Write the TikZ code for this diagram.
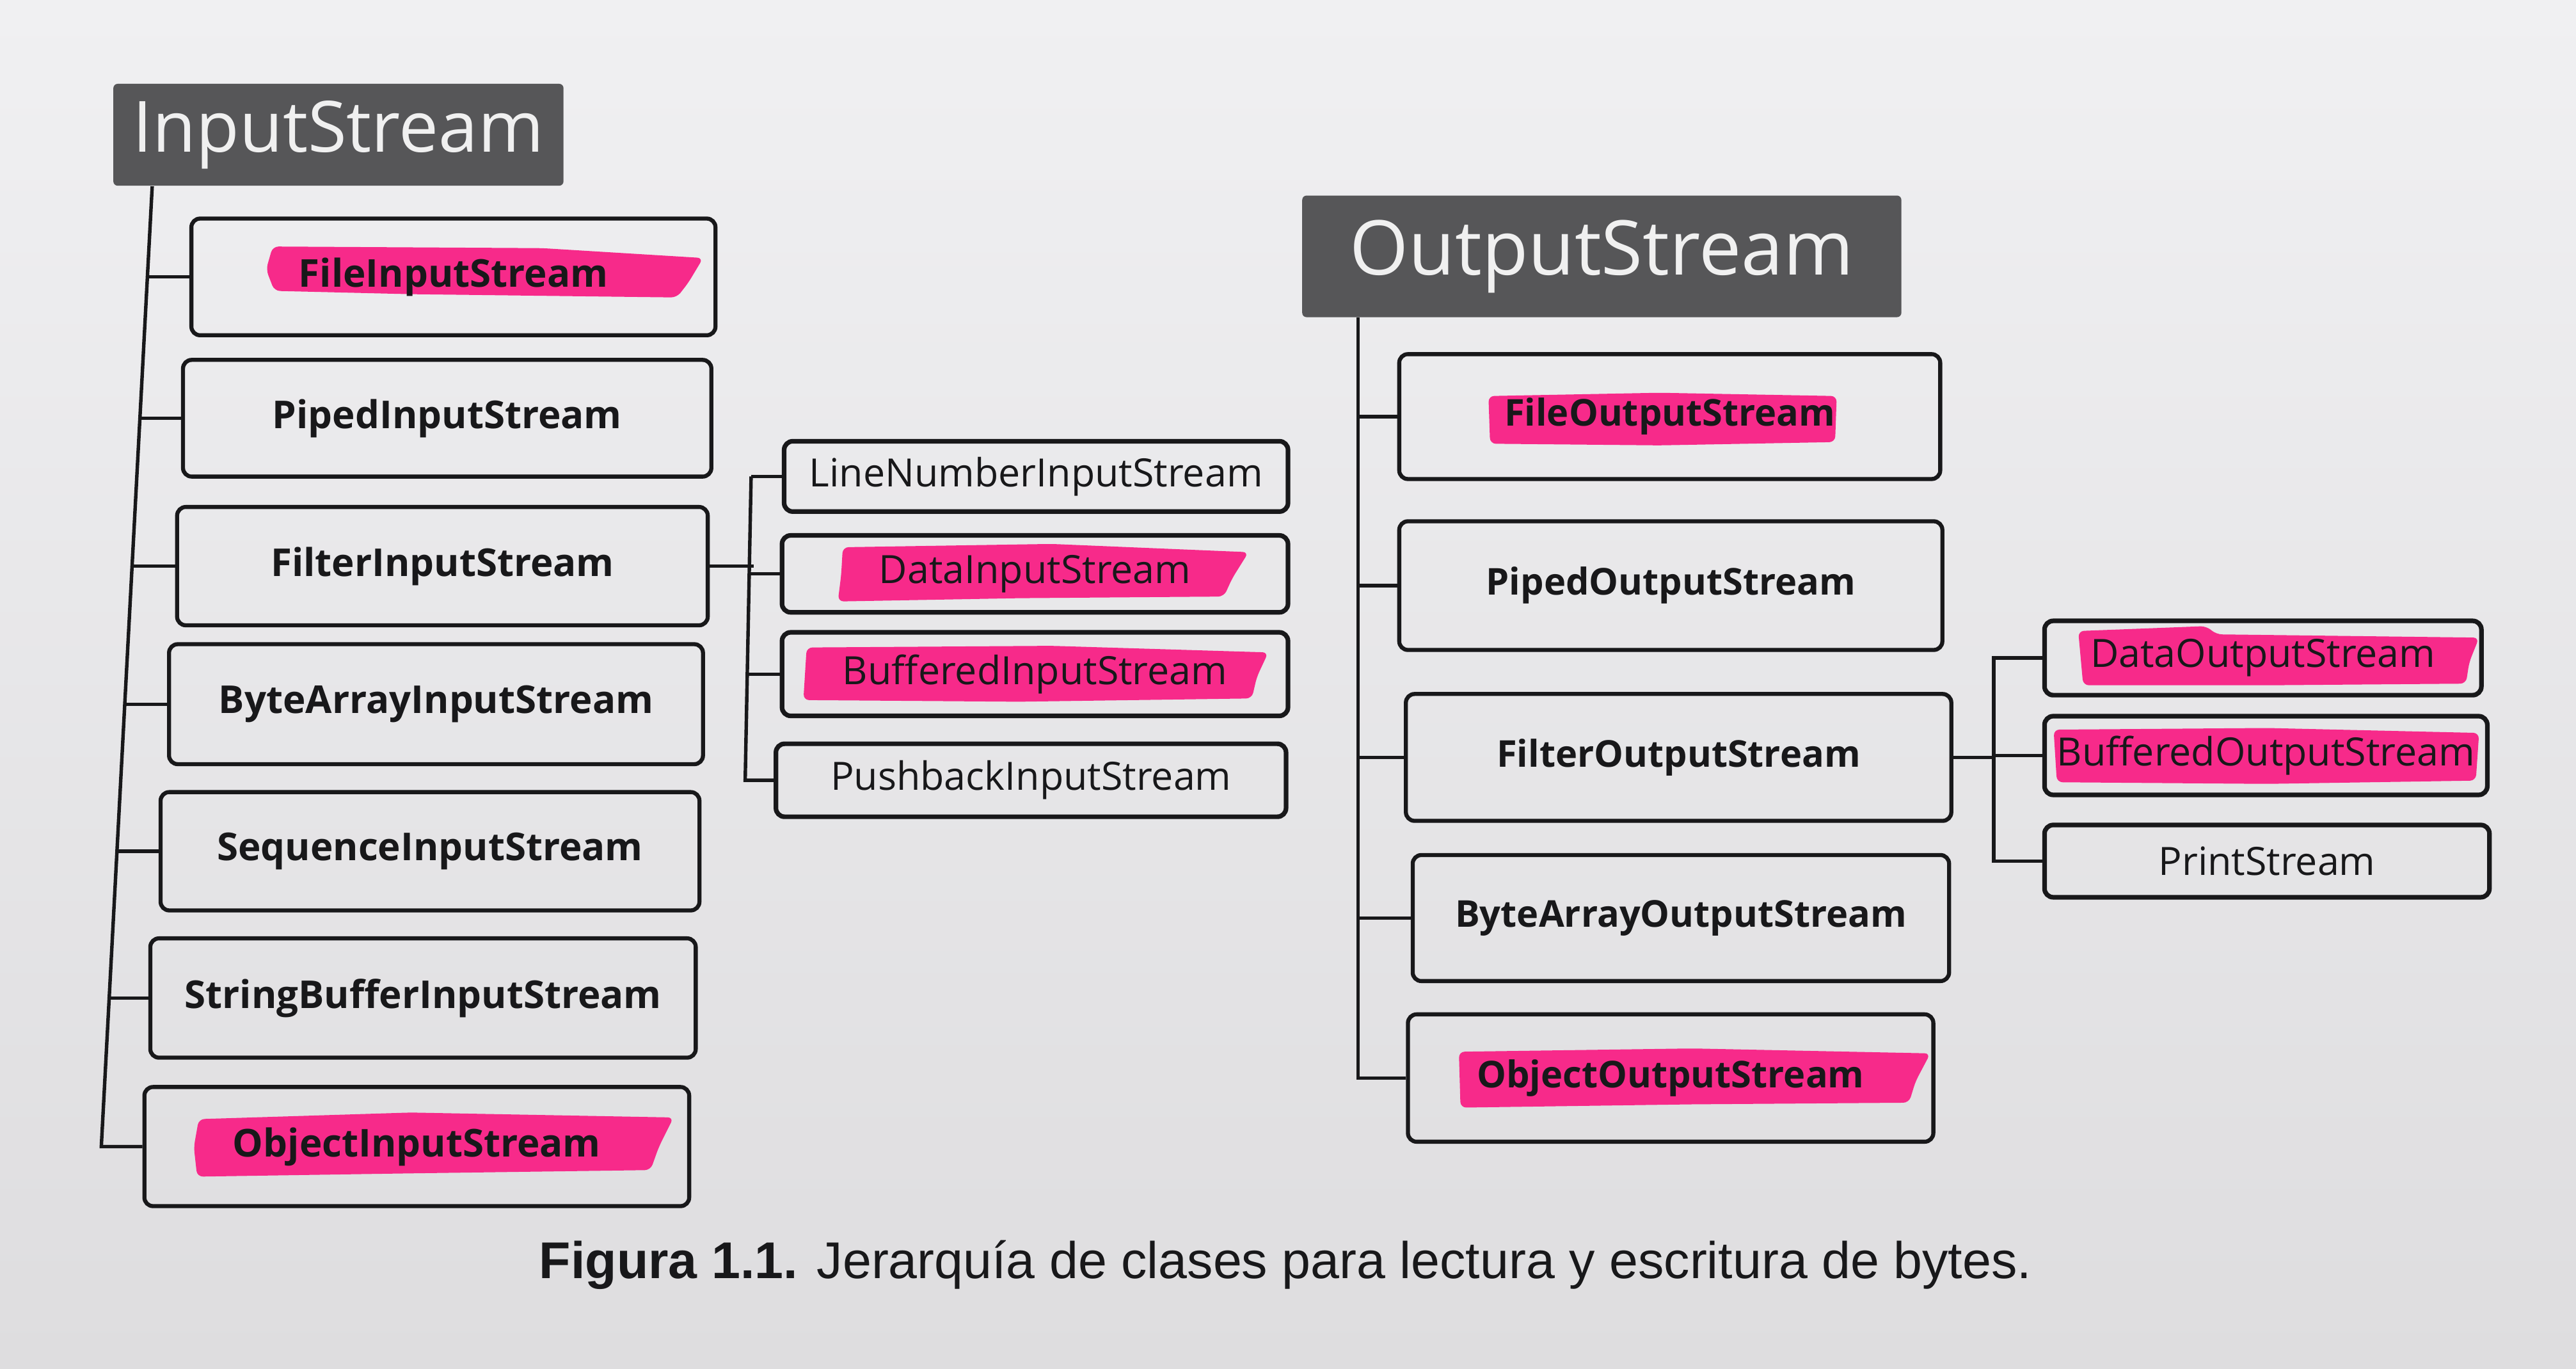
\documentclass[tikz,border=0pt]{standalone}
\usepackage{fontspec}
\newfontfamily\boxfont{Open Sans}
\newfontfamily\capfont{Liberation Sans}
\usetikzlibrary{calc}
\definecolor{paperTop}{RGB}{240,240,242}
\definecolor{paperBot}{RGB}{222,221,223}
\definecolor{hdr}{RGB}{86,86,88}
\definecolor{ink}{RGB}{24,24,26}
\definecolor{hipink}{RGB}{247,42,138}
\def\U{0.02cm}
\begin{document}
\begin{tikzpicture}[x=0.02cm,y=-0.02cm,
  hdrbox/.style={fill=hdr, rounded corners=1.5pt, text=white!94!black, inner sep=0pt, font=\boxfont\fontsize{24.5pt}{28pt}\selectfont},
  mainbox/.style={draw=ink, line width=1.4pt, rounded corners=3pt, inner sep=0pt, text=ink, font=\boxfont\bfseries\fontsize{13.3pt}{16pt}\selectfont},
  mainboxr/.style={mainbox, font=\boxfont\bfseries\fontsize{12.8pt}{15pt}\selectfont},
  subbox/.style={draw=ink, line width=1.6pt, rounded corners=3pt, inner sep=0pt, text=ink, font=\boxfont\fontsize{13.5pt}{16pt}\selectfont},
  link/.style={draw=ink, line width=1.2pt},
  hilite/.style={fill=hipink, rounded corners=2pt}]

% background
\shade[top color=paperTop, bottom color=paperBot] (0,0) rectangle (1568,833);

% highlighter strokes
\fill[hilite] (166,150) -- (330,151) -- (428,157) -- (419,172) -- (412,181) -- (250,179) -- (167,177) -- (162,164) -- cycle;
\fill[hilite] (906,241) -- (1010,239) -- (1118,241) -- (1117,269) -- (1010,271) -- (907,270) -- cycle;
\fill[hilite] (513,333) -- (640,331) -- (760,336) -- (750,352) -- (745,363) -- (620,364) -- (510,366) -- (512,350) -- cycle;
\fill[hilite] (491,394) -- (640,393) -- (772,397) -- (765,412) -- (762,425) -- (620,427) -- (489,426) -- cycle;
\fill[hilite] (1265,384) -- (1343,381) -- (1349,386) -- (1509,388) -- (1503,403) -- (1501,416) -- (1380,417) -- (1268,417) -- cycle;
\fill[hilite] (1250,444) -- (1380,443) -- (1509,446) -- (1507,475) -- (1380,477) -- (1252,476) -- cycle;
\fill[hilite] (121,681) -- (250,677) -- (410,680) -- (401,698) -- (396,712) -- (250,714) -- (120,716) -- (118,698) -- cycle;
\fill[hilite] (888,640) -- (1030,638) -- (1175,641) -- (1166,658) -- (1162,671) -- (1030,672) -- (889,674) -- cycle;

% InputStream side
\node[hdrbox, minimum width=274*\U, minimum height=62*\U] (ins) at (206,82) {InputStream};
\node[mainbox, minimum width=319*\U, minimum height=71*\U] (fis) at (276,168.5) {FileInputStream};
\node[mainbox, minimum width=321.6*\U, minimum height=71*\U] (pis) at (272.2,254.5) {PipedInputStream};
\node[mainbox, minimum width=323*\U, minimum height=72*\U] (filis) at (269.3,344.5) {FilterInputStream};
\node[mainbox, minimum width=325*\U, minimum height=73*\U] (bais) at (265.4,428.5) {ByteArrayInputStream};
\node[mainbox, minimum width=328*\U, minimum height=72*\U] (sis) at (261.75,518) {SequenceInputStream};
\node[mainbox, minimum width=332*\U, minimum height=72.6*\U] (sbis) at (257.5,607.3) {StringBufferInputStream};
\node[mainbox, minimum width=331.6*\U, minimum height=72.5*\U] (ois) at (253.7,697.7) {ObjectInputStream};

\node[subbox, minimum width=306.7*\U, minimum height=42.8*\U] (lnis) at (630.65,289.9) {LineNumberInputStream};
\node[subbox, minimum width=308*\U, minimum height=46.8*\U] (dis) at (630,349.2) {DataInputStream};
\node[subbox, minimum width=308*\U, minimum height=50.8*\U] (bis) at (630,410.2) {BufferedInputStream};
\node[subbox, minimum width=310.5*\U, minimum height=44.4*\U] (pbis) at (627.55,474.8) {PushbackInputStream};

\draw[link] ($(ins.south west)+(24,0)$) -- ($(ois.west)+(-25,0)$) -- (ois.west);
\foreach \n/\d in {fis/26.4, pis/25.7, filis/26.7, bais/26.1, sis/25.6, sbis/24}
  \draw[link] (\n.west) -- ++(-\d,0);

\draw[link] ($(lnis.west)+(-18.7,0)$) -- ($(pbis.west)+(-17.3,0)$) -- (pbis.west);
\draw[link] (lnis.west) -- ++(-18.7,0);
\draw[link] (dis.west) -- ++(-18.6,0);
\draw[link] (bis.west) -- ++(-19.7,0);
\draw[link] (filis.east) -- ++(26.7,0);

% OutputStream side
\node[hdrbox, font=\boxfont\fontsize{26.2pt}{30pt}\selectfont, minimum width=364.7*\U, minimum height=74*\U] (outs) at (975,156) {OutputStream};
\node[mainboxr, minimum width=329.3*\U, minimum height=76*\U] (fos) at (1016.35,253.5) {FileOutputStream};
\node[mainboxr, minimum width=330.6*\U, minimum height=78.3*\U] (pos) at (1017,356.35) {PipedOutputStream};
\node[mainboxr, minimum width=332*\U, minimum height=77.2*\U] (filos) at (1021.75,460.9) {FilterOutputStream};
\node[mainboxr, minimum width=326.5*\U, minimum height=76.7*\U] (baos) at (1023.15,558.65) {ByteArrayOutputStream};
\node[mainboxr, minimum width=319.8*\U, minimum height=77.5*\U] (oos) at (1016.9,656) {ObjectOutputStream};

\node[subbox, minimum width=265.9*\U, minimum height=45.2*\U] (dos) at (1377.45,400.4) {DataOutputStream};
\node[subbox, minimum width=269.5*\U, minimum height=47.9*\U] (bos) at (1379.25,459.75) {BufferedOutputStream};
\node[subbox, minimum width=270.8*\U, minimum height=44*\U] (ps) at (1379.9,524) {PrintStream};

\coordinate (otr) at ($(outs.south west)+(34.4,0)$);
\draw[link] (otr) |- (oos.west);
\foreach \n in {fos, pos, filos, baos}
  \draw[link] (\n.west) -- (\n.west -| otr);

\coordinate (str) at (1213.5,400.4);
\draw[link] (dos.west) -- (dos.west -| str) |- (ps.west);
\draw[link] (bos.west) -- (bos.west -| str);
\draw[link] (filos.east) -- (filos.east -| str);

% caption
\node[anchor=base, text=ink, font=\capfont\fontsize{17.9pt}{21pt}\selectfont] (cap) at (782.5,778) {\textbf{Figura 1.1.} Jerarquía de clases para lectura y escritura de bytes.};
\end{tikzpicture}
\end{document}
